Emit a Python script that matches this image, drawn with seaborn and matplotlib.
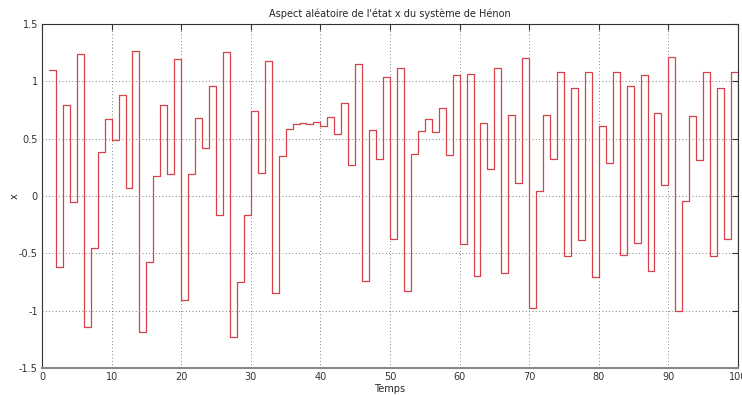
import numpy as np
import pandas as pd
import matplotlib
matplotlib.use("Agg")
import matplotlib.pyplot as plt
import seaborn as sns

# time steps and state x of the Henon map
temps = list(range(1, 101))
etat_x = [
    1.095, -0.618, 0.79, -0.049, 1.24, -1.14, -0.453, 0.38, 0.674, 0.488,
    0.88, 0.073, 1.26, -1.185, -0.58, 0.17, 0.79, 0.19, 1.19, -0.91,
    0.19, 0.68, 0.42, 0.96, -0.17, 1.254, -1.234, -0.752, -0.168, 0.74,
    0.197, 1.176, -0.848, 0.345, 0.587, 0.624, 0.636, 0.63, 0.647, 0.61,
    0.688, 0.543, 0.807, 0.273, 1.15, -0.74, 0.575, 0.322, 1.034, -0.375,
    1.115, -0.83, 0.366, 0.566, 0.668, 0.56, 0.767, 0.36, 1.05, -0.418,
    1.063, -0.697, 0.636, 0.235, 1.118, -0.67, 0.708, 0.113, 1.205, -0.973,
    0.044, 0.708, 0.319, 1.083, -0.52, 0.94, -0.38, 1.083, -0.711, 0.607,
    0.287, 1.08, -0.511, 0.955, -0.41, 1.051, -0.653, 0.723, 0.093, 1.211,
    -1.0, -0.046, 0.697, 0.313, 1.083, -0.523, 0.94, -0.375, 1.083, -0.725,
]
xticks = [0, 10, 20, 30, 40, 50, 60, 70, 80, 90, 100]
yticks = [-1.5, -1, -0.5, 0, 0.5, 1, 1.5]
ytick_labels = ["-1.5", "-1", "-0.5", "0", "0.5", "1", "1.5"]

df = pd.DataFrame({"Temps": temps, "x": etat_x})

sns.set_style("white")
plt.rcParams["font.family"] = ["DejaVu Sans"]

fig = plt.figure(figsize=(7.42, 3.96), dpi=100)
ax = fig.add_axes([0.0566, 0.0707, 0.938, 0.869])

sns.lineplot(data=df, x="Temps", y="x", drawstyle="steps-post",
             estimator=None, sort=False, color="#d8404a", linewidth=0.9, ax=ax)

ax.set_xlim(0, 100)
ax.set_ylim(-1.5, 1.5)
ax.set_xticks(xticks)
ax.set_xticklabels([str(t) for t in xticks])
ax.set_yticks(yticks)
ax.set_yticklabels(ytick_labels)
ax.grid(True, linestyle=(0, (1, 3)), color="#555555", linewidth=0.6)
ax.tick_params(direction="in", length=4, labelsize=7, top=True, right=True,
               colors="#333333", pad=3)
for side in ["top", "right", "left", "bottom"]:
    ax.spines[side].set_visible(True)
    ax.spines[side].set_color("#333333")
    ax.spines[side].set_linewidth(0.8)
ax.spines["bottom"].set_color("#888888")
ax.spines["bottom"].set_linewidth(1.5)

ax.set_title("Aspect aléatoire de l'état x du système de Hénon", fontsize=7, pad=5)
ax.set_xlabel("Temps", fontsize=7, labelpad=1)
ax.set_ylabel("x", fontsize=7)
ax.yaxis.set_label_coords(-0.032, 0.5)

fig.savefig("out.png", dpi=100)
